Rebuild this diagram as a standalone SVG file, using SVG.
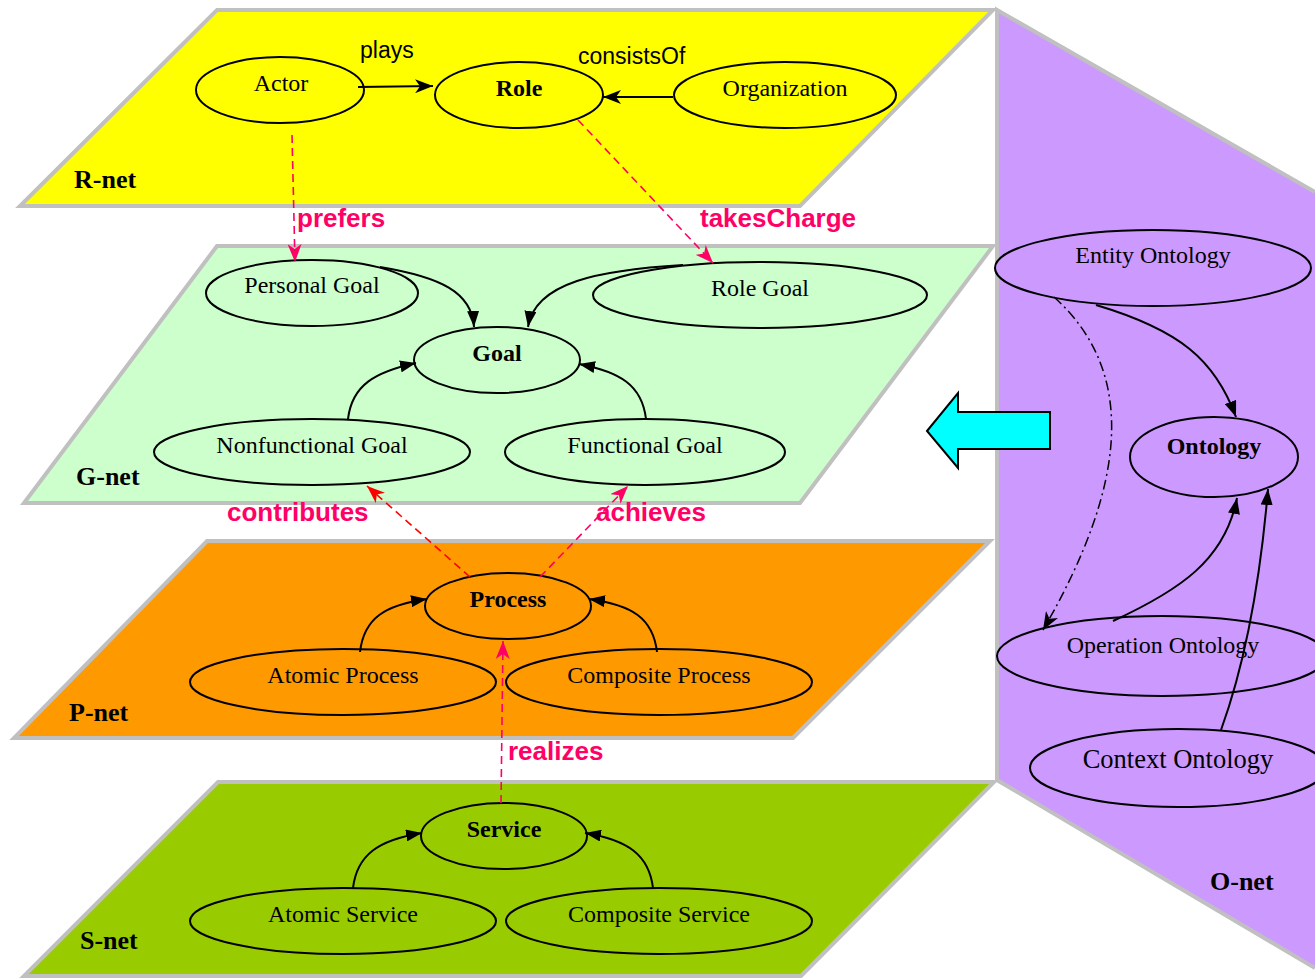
<svg xmlns="http://www.w3.org/2000/svg" width="1315" height="978" viewBox="0 0 1315 978">
<style>
.layer{stroke:#C0C0C0;stroke-width:4;stroke-linejoin:miter}
.node{stroke:#000;stroke-width:2}
.nt{font-family:"Liberation Serif","Times New Roman",serif;font-size:24px;text-anchor:middle;fill:#000}
.b{font-weight:bold}
.ll{font-family:"Liberation Serif","Times New Roman",serif;font-size:26px;font-weight:bold;fill:#000}
.el{font-family:"Liberation Sans",Arial,sans-serif;font-size:23px;fill:#000}
.pl{font-family:"Liberation Sans",Arial,sans-serif;font-size:26px;font-weight:bold;fill:#FF0066}
.e{fill:none;stroke:#000;stroke-width:2}
.pk{fill:none;stroke:#FF0066;stroke-width:1.6;stroke-dasharray:8,5}
.rd{fill:none;stroke:#FF0000;stroke-width:1.6;stroke-dasharray:8,5}
.dd{fill:none;stroke:#000;stroke-width:1.5;stroke-dasharray:10,4,2,4}
</style>
<defs>
<marker id="tri" viewBox="0 0 16 12" refX="16" refY="6" markerWidth="16" markerHeight="12" markerUnits="userSpaceOnUse" orient="auto"><path d="M0,0 L16,6 L0,12 z" fill="#000"/></marker>
<marker id="st" viewBox="0 0 18 14" refX="18" refY="7" markerWidth="18" markerHeight="14" markerUnits="userSpaceOnUse" orient="auto"><path d="M0,0 L18,7 L0,14 L5,7 z" fill="#000"/></marker>
<marker id="stp" viewBox="0 0 18 14" refX="18" refY="7" markerWidth="18" markerHeight="14" markerUnits="userSpaceOnUse" orient="auto"><path d="M0,0 L18,7 L0,14 L5,7 z" fill="#FF0066"/></marker>
<marker id="str" viewBox="0 0 18 14" refX="18" refY="7" markerWidth="18" markerHeight="14" markerUnits="userSpaceOnUse" orient="auto"><path d="M0,0 L18,7 L0,14 L5,7 z" fill="#FF0000"/></marker>
</defs>

<g id="o-net">
<polygon points="997,10 1315,192 1315,968 997,780" fill="#CC99FF" stroke="none"/>
<polyline points="1315,192 997,10 997,780 1315,968" fill="none" class="layer"/>
<text class="ll" x="1210" y="890">O-net</text>
</g>

<g id="r-net">
<polygon class="layer" points="217,10 993,10 800,206 20,206" fill="#FFFF00"/>
<text class="ll" x="74" y="188">R-net</text>
</g>
<g id="g-net">
<polygon class="layer" points="217,246 993,246 800,503 24,503" fill="#CCFFCC"/>
<text class="ll" x="76" y="485">G-net</text>
</g>
<g id="p-net">
<polygon class="layer" points="207,541 990,541 793,738 14,738" fill="#FF9900"/>
<text class="ll" x="69" y="721">P-net</text>
</g>
<g id="s-net">
<polygon class="layer" points="218,782 994,782 801,976 24,976" fill="#99CC00"/>
<text class="ll" x="80" y="949">S-net</text>
</g>

<g id="transfer-arrow">
<polygon points="927,431 958,393 958,412 1050,412 1050,449 958,449 958,468" fill="#00FFFF" stroke="#000" stroke-width="2"/>
</g>

<g id="actor"><ellipse class="node" cx="280" cy="90" rx="84" ry="33" fill="#FFFF00"/><text class="nt" x="281" y="91">Actor</text></g>
<g id="role"><ellipse class="node" cx="519" cy="95" rx="84" ry="33" fill="#FFFF00"/><text class="nt b" x="519" y="96">Role</text></g>
<g id="organization"><ellipse class="node" cx="785" cy="95" rx="111" ry="33" fill="#FFFF00"/><text class="nt" x="785" y="96">Organization</text></g>

<g id="personal-goal"><ellipse class="node" cx="312" cy="293" rx="106" ry="33" fill="#CCFFCC"/><text class="nt" x="312" y="293">Personal Goal</text></g>
<g id="role-goal"><ellipse class="node" cx="760" cy="295" rx="167" ry="33" fill="#CCFFCC"/><text class="nt" x="760" y="296">Role Goal</text></g>
<g id="goal"><ellipse class="node" cx="497" cy="360" rx="83" ry="33" fill="#CCFFCC"/><text class="nt b" x="497" y="361">Goal</text></g>
<g id="nonfunctional-goal"><ellipse class="node" cx="312" cy="452" rx="158" ry="33" fill="#CCFFCC"/><text class="nt" x="312" y="453">Nonfunctional Goal</text></g>
<g id="functional-goal"><ellipse class="node" cx="645" cy="452" rx="140" ry="33" fill="#CCFFCC"/><text class="nt" x="645" y="453">Functional Goal</text></g>

<g id="process"><ellipse class="node" cx="508" cy="606" rx="83" ry="33" fill="#FF9900"/><text class="nt b" x="508" y="607">Process</text></g>
<g id="atomic-process"><ellipse class="node" cx="343" cy="682" rx="153" ry="33" fill="#FF9900"/><text class="nt" x="343" y="683">Atomic Process</text></g>
<g id="composite-process"><ellipse class="node" cx="659" cy="682" rx="153" ry="33" fill="#FF9900"/><text class="nt" x="659" y="683">Composite Process</text></g>

<g id="service"><ellipse class="node" cx="504" cy="836" rx="83" ry="33" fill="#99CC00"/><text class="nt b" x="504" y="837">Service</text></g>
<g id="atomic-service"><ellipse class="node" cx="343" cy="921" rx="153" ry="33" fill="#99CC00"/><text class="nt" x="343" y="922">Atomic Service</text></g>
<g id="composite-service"><ellipse class="node" cx="659" cy="921" rx="153" ry="33" fill="#99CC00"/><text class="nt" x="659" y="922">Composite Service</text></g>

<g id="entity-ontology"><ellipse class="node" cx="1153" cy="268" rx="158" ry="38" fill="#CC99FF"/><text class="nt" x="1153" y="263">Entity Ontology</text></g>
<g id="ontology"><ellipse class="node" cx="1214" cy="457" rx="84" ry="40" fill="#CC99FF"/><text class="nt b" x="1214" y="454">Ontology</text></g>
<g id="operation-ontology"><ellipse class="node" cx="1162" cy="656" rx="165" ry="40" fill="#CC99FF"/><text class="nt" x="1163" y="653">Operation Ontology</text></g>
<g id="context-ontology"><ellipse class="node" cx="1178" cy="768" rx="148" ry="39" fill="#CC99FF"/><text class="nt" x="1178" y="768" style="font-size:26.5px">Context Ontology</text></g>

<g id="connectors">
<path class="e" d="M358,87 L433,86" marker-end="url(#st)"/>
<text class="el" x="360" y="58">plays</text>
<path class="e" d="M673,97 L603,97" marker-end="url(#st)"/>
<text class="el" x="578" y="64">consistsOf</text>

<path class="pk" d="M292,135 L295,262" marker-end="url(#stp)"/>
<text class="pl" x="297" y="227">prefers</text>
<path class="pk" d="M578,120 L713,263" marker-end="url(#stp)"/>
<text class="pl" x="700" y="227">takesCharge</text>
<path class="rd" d="M470,577 L367,486" marker-end="url(#str)"/>
<text class="pl" x="227" y="521">contributes</text>
<path class="pk" d="M540,577 L628,486" marker-end="url(#stp)"/>
<text class="pl" x="596" y="521">achieves</text>
<path class="pk" d="M501,803 L503,641" marker-end="url(#stp)"/>
<text class="pl" x="508" y="760">realizes</text>

<path class="e" d="M380,267 C440,277 472,292 474,327" marker-end="url(#tri)"/>
<path class="e" d="M683,265 C600,270 535,282 528,327" marker-end="url(#tri)"/>
<path class="e" d="M348,419 C352,385 375,372 416,363" marker-end="url(#tri)"/>
<path class="e" d="M646,419 C642,385 620,372 579,364" marker-end="url(#tri)"/>

<path class="e" d="M360,652 C364,618 385,605 427,599" marker-end="url(#tri)"/>
<path class="e" d="M657,652 C653,618 632,605 589,599" marker-end="url(#tri)"/>

<path class="e" d="M353,888 C357,855 378,840 422,833" marker-end="url(#tri)"/>
<path class="e" d="M653,888 C649,855 628,840 585,833" marker-end="url(#tri)"/>

<path class="e" d="M1096,305 C1180,330 1215,360 1236,417" marker-end="url(#tri)"/>
<path class="dd" d="M1054,297 C1135,370 1130,480 1043,630" marker-end="url(#st)"/>
<path class="e" d="M1113,621 C1180,590 1225,560 1237,498" marker-end="url(#tri)"/>
<path class="e" d="M1221,730 C1250,650 1262,560 1268,489" marker-end="url(#tri)"/>
</g>
</svg>
